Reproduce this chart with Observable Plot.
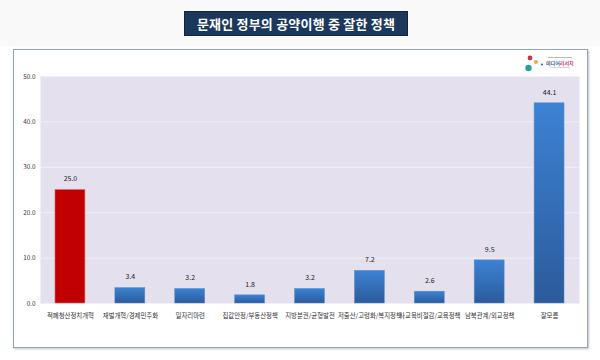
<!DOCTYPE html>
<html>
<head>
<meta charset="utf-8">
<script src="https://cdn.jsdelivr.net/npm/d3@7"></script>
<script src="https://cdn.jsdelivr.net/npm/@observablehq/plot@0.6"></script>
<style>
  html, body { margin: 0; padding: 0; background: #ffffff; }
  #wrap { position: relative; width: 600px; height: 360px; overflow: hidden; font-family: "Noto Sans CJK KR", sans-serif; }
  #topband { position: absolute; left: 0; top: 0; width: 600px; height: 46px; background: #f9f9f9; }
  #title { position: absolute; left: 184px; top: 11px; width: 222px; height: 23px; background: #1b385c; border: 1px solid #0f2440;
           color: #ffffff; font-weight: bold; font-size: 13px; line-height: 23px; text-align: center; letter-spacing: 0.2px; }
  #panel { position: absolute; left: 13px; top: 49px; width: 573px; height: 297px; background: #ffffff;
           border: 1.5px solid #97a3bd; box-shadow: 1px 1px 2px rgba(120,130,150,0.5); }
  #chart { position: absolute; left: 0; top: 0; }
  #logo { position: absolute; left: 524px; top: 54px; }
</style>
</head>
<body>
<div id="wrap">
  <div id="topband"></div>
  <div id="title">문재인 정부의 공약이행 중 잘한 정책</div>
  <div id="panel"></div>
  <div id="chart"></div>
  <svg id="logo" width="52" height="20" viewBox="0 0 52 20">
    <circle cx="6" cy="4" r="2.4" fill="#c8384a"/>
    <circle cx="12" cy="8" r="2" fill="#f0a830"/>
    <circle cx="4.5" cy="14" r="3.2" fill="#2aa198"/>
    <circle cx="18" cy="10.5" r="1.1" fill="#2d6cb5"/>
    <rect x="24" y="3" width="24" height="1" fill="#bbb"/>
    <text x="22" y="11" font-size="5" font-weight="bold" fill="#3b5aa0" font-family="Noto Sans CJK KR">미디어<tspan fill="#d04070">리서치</tspan></text>
    <rect x="26" y="13" width="20" height="0.8" fill="#ccc"/>
  </svg>
</div>
<script>
const categories = ["적폐청산정치개혁", "재벌개혁/경제민주화", "일자리마련", "집값안정/부동산정책", "지방분권/균형발전", "저출산/고령화/복지정책", "사교육비절감/교육정책", "남북관계/외교정책", "잘모름"];
const values = [25.0, 3.4, 3.2, 1.8, 3.2, 7.2, 2.6, 9.5, 44.1];
const yTicks = [0, 10, 20, 30, 40, 50];
const highlighted = "적폐청산정치개혁";

const data = categories.map((c, i) => ({category: c, value: values[i]}));
const fmt = d3.format(".1f");

const chart = Plot.plot({
  width: 600,
  height: 360,
  marginLeft: 40,
  marginRight: 21,
  marginTop: 76,
  marginBottom: 57,
  style: {background: "transparent", fontFamily: "'Noto Sans CJK KR', sans-serif", color: "#333"},
  x: {domain: categories, paddingInner: 0.5, paddingOuter: 0.25, round: false, label: null},
  y: {domain: [0, 50], ticks: yTicks, label: null},
  marks: [
    Plot.frame({fill: "#e4e0ee", stroke: null}),
    Plot.gridY(yTicks, {stroke: "#eef0fb", strokeOpacity: 1, strokeWidth: 1}),
    Plot.axisY(yTicks, {tickSize: 0, tickPadding: 5, tickFormat: fmt, fontSize: 6.3, fill: "#333", label: null}),
    Plot.axisX({tickSize: 0, tickPadding: 10, fontSize: 6.4, fill: "#333", label: null}),
    Plot.barY(data.filter(d => d.category === highlighted), {x: "category", y: "value", fill: "#c00000", stroke: "#e07070", strokeWidth: 0.6}),
    Plot.barY(data.filter(d => d.category !== highlighted), {x: "category", y: "value", fill: "url(#blueGrad)", stroke: "#5a8fd0", strokeWidth: 0.5}),
    Plot.text(data, {x: "category", y: "value", text: d => fmt(d.value), dy: -11, fontSize: 7, fill: "#222"})
  ]
});

const ns = "http://www.w3.org/2000/svg";
const defs = document.createElementNS(ns, "defs");
defs.innerHTML = '<linearGradient id="blueGrad" x1="0" y1="0" x2="0" y2="1">' +
  '<stop offset="0" stop-color="#3d82d4"/><stop offset="1" stop-color="#2b5b9b"/></linearGradient>';
chart.insertBefore(defs, chart.firstChild);
document.getElementById("chart").appendChild(chart);
</script>
</body>
</html>
